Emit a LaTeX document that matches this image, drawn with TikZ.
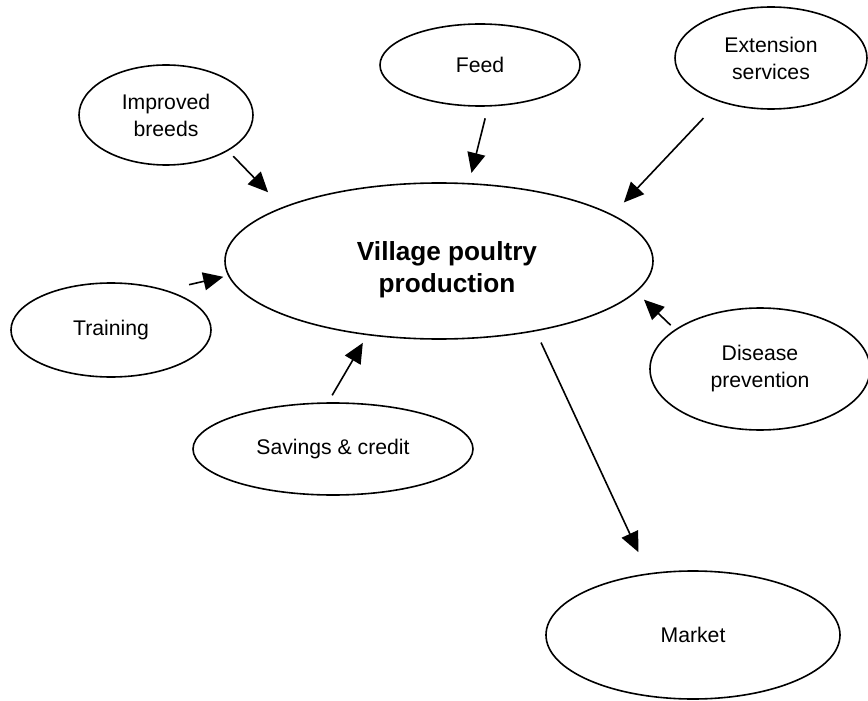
\documentclass[tikz,border=0pt]{standalone}
\usepackage{fontspec}
\setmainfont{Liberation Sans}
\usetikzlibrary{shapes.geometric,arrows.meta}
\tikzset{
  bubble/.style={draw, ellipse, line width=0.8pt, inner sep=0pt, align=center,
    font=\fontsize{10.6}{13.5}\selectfont},
  arr/.style={line width=0.8pt, -{Triangle[length=10pt,width=9pt]}}
}
\begin{document}
\begin{tikzpicture}[x=0.5pt,y=-0.5pt]
	\useasboundingbox (0,0) rectangle (868,701);
	% centre
	\node[bubble, minimum width=214pt, minimum height=78pt] (vp) at (439,261) {};
	\node[align=center, font=\fontsize{13.1}{16}\selectfont\bfseries] (vplabel) at (447,270) {Village poultry\\production};
	% inputs round it
	\node[bubble, minimum width=87pt, minimum height=50pt] (ib) at (166,115) {Improved\\breeds};
	\node[bubble, minimum width=100pt, minimum height=41pt] (feed) at (480,65) {Feed};
	\node[bubble, minimum width=96pt, minimum height=51pt] (ext) at (771,58) {Extension\\services};
	\node[bubble, minimum width=100pt, minimum height=47pt] (train) at (111,330) {Training};
	\node[bubble, minimum width=110pt, minimum height=61pt] (dis) at (760,369) {Disease\\prevention};
	\node[bubble, minimum width=140pt, minimum height=46pt] (save) at (333,449) {Savings \& credit};
	\node[bubble, minimum width=147pt, minimum height=64pt] (mkt) at (693,635) {Market};
	% arrows
	\draw[arr, shorten <=3.7pt, shorten >=10.3pt] (ib.-30.5) -- (vp.161);
	\draw[arr, shorten <=6pt, shorten >=5.2pt] (feed.-79.9) -- (vp.69);
	\draw[arr, shorten <=11.3pt, shorten >=8.3pt] (ext.-140.8) -- (vp.15.4);
	\draw[arr, shorten <=11.8pt, shorten >=2.4pt] (train.36.6) -- (vp.-176.8);
	\draw[arr, shorten <=4pt, shorten >=4.4pt] (save.96.2) -- (vp.-134.3);
	\draw[arr, shorten <=3pt, shorten >=5.4pt] (dis.155.1) -- (vp.-9.7);
	\draw[arr, shorten <=6.2pt, shorten >=11.7pt] (vp.-36.1) -- (mkt.126.5);
\end{tikzpicture}
\end{document}
